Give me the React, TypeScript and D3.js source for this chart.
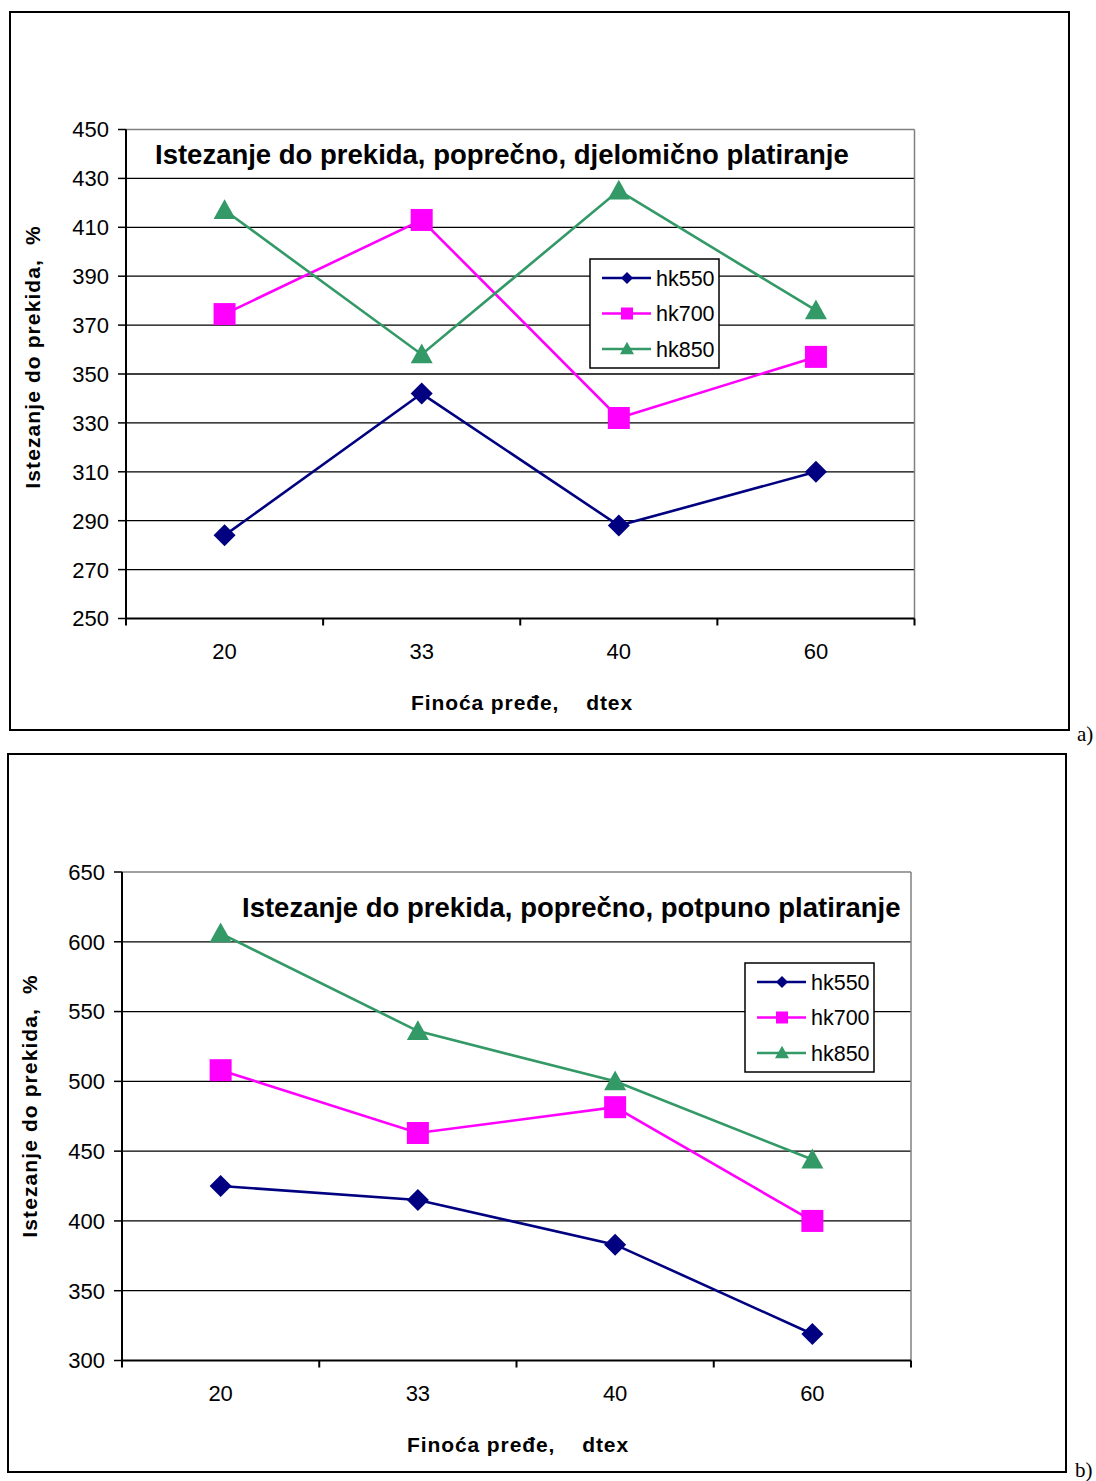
import React from "react";
import * as d3 from "d3";

const categories = ["20", "33", "40", "60"];
const seriesNames = ["hk550", "hk700", "hk850"];
const colors = ["#000080", "#FF00FF", "#339966"];

const aTitle = "Istezanje do prekida, poprečno, djelomično platiranje";
const aTicks = [250, 270, 290, 310, 330, 350, 370, 390, 410, 430, 450];
const aHk550 = [284, 342, 288, 310];
const aHk700 = [374.5, 413, 332, 357];
const aHk850 = [417, 358, 425, 376];

const bTitle = "Istezanje do prekida, poprečno, potpuno platiranje";
const bTicks = [300, 350, 400, 450, 500, 550, 600, 650];
const bHk550 = [425, 415, 383, 319];
const bHk700 = [508, 463, 481.5, 400];
const bHk850 = [606, 536, 500, 444];

const yLabel = "Istezanje do prekida,  %";
const xLabel = "Finoća pređe,    dtex";

function Marker({ kind, x, y, s, color }: { kind: number; x: number; y: number; s: number; color: string }) {
  if (kind === 0) {
    const h = s / 2;
    return <path d={`M${x},${y - h}L${x + h},${y}L${x},${y + h}L${x - h},${y}Z`} fill={color} />;
  }
  if (kind === 1) {
    return <rect x={x - s / 2} y={y - s / 2} width={s} height={s} fill={color} />;
  }
  const h = s * 0.9;
  return <path d={`M${x},${y - h / 2 - 1}L${x + s / 2},${y + h / 2 - 1}L${x - s / 2},${y + h / 2 - 1}Z`} fill={color} />;
}

type ChartProps = {
  box: [number, number, number, number];
  plot: [number, number, number, number];
  ticks: number[];
  series: number[][];
  title: string;
  titleX: number;
  titleY: number;
  legend: [number, number];
  yLabelPos: [number, number];
  xLabelPos: [number, number];
  tag: string;
  tagPos: [number, number];
};

function Chart(p: ChartProps) {
  const [l, t, r, b] = p.plot;
  const y = d3.scaleLinear().domain([p.ticks[0], p.ticks[p.ticks.length - 1]]).range([b, t]);
  const x = d3.scaleBand().domain(categories).range([l, r]);
  const cx = (c: string) => (x(c) as number) + x.bandwidth() / 2;
  const line = d3
    .line<number>()
    .x((_, i) => cx(categories[i]))
    .y((v) => y(v));
  const [lx, ly] = p.legend;
  const font = "Arial, 'Liberation Sans', sans-serif";
  return (
    <g fontFamily={font}>
      <rect x={p.box[0]} y={p.box[1]} width={p.box[2] - p.box[0]} height={p.box[3] - p.box[1]} fill="none" stroke="#000" strokeWidth={2} />
      {p.ticks.map((v) => (
        <g key={v}>
          {v !== p.ticks[0] && v !== p.ticks[p.ticks.length - 1] && (
            <line x1={l} x2={r} y1={y(v)} y2={y(v)} stroke="#000" strokeWidth={1.3} />
          )}
          <line x1={l - 8} x2={l} y1={y(v)} y2={y(v)} stroke="#000" strokeWidth={1.5} />
          <text x={l - 17} y={y(v)} dy="0.36em" textAnchor="end" fontSize={22}>
            {v}
          </text>
        </g>
      ))}
      <line x1={l} x2={r} y1={t} y2={t} stroke="#808080" strokeWidth={1.5} />
      <line x1={r} x2={r} y1={t} y2={b} stroke="#808080" strokeWidth={1.5} />
      <line x1={l} x2={l} y1={t} y2={b + 7} stroke="#000" strokeWidth={2} />
      <line x1={l} x2={r} y1={b} y2={b} stroke="#000" strokeWidth={2} />
      {categories.map((c, i) => (
        <line key={"t" + i} x1={(x(c) as number) + x.bandwidth()} x2={(x(c) as number) + x.bandwidth()} y1={b} y2={b + 7} stroke="#000" strokeWidth={2} />
      ))}
      {categories.map((c) => (
        <text key={"c" + c} x={cx(c)} y={b + 33} dy="0.36em" textAnchor="middle" fontSize={22}>
          {c}
        </text>
      ))}
      <text x={p.titleX} y={p.titleY} fontSize={27.5} fontWeight="bold" dy="0.35em">
        {p.title}
      </text>
      <text
        transform={`translate(${p.yLabelPos[0]},${p.yLabelPos[1]}) rotate(-90)`}
        textAnchor="middle"
        fontSize={21}
        fontWeight="bold"
        letterSpacing={1.1}
        dy="0.35em"
        style={{ whiteSpace: "pre" }}
      >
        {yLabel}
      </text>
      <text
        x={p.xLabelPos[0]}
        y={p.xLabelPos[1]}
        textAnchor="middle"
        fontSize={21}
        fontWeight="bold"
        letterSpacing={0.9}
        dy="0.35em"
        style={{ whiteSpace: "pre" }}
      >
        {xLabel}
      </text>
      {p.series.map((s, k) => (
        <g key={"s" + k}>
          <path d={line(s) || ""} fill="none" stroke={colors[k]} strokeWidth={2.6} />
          {s.map((v, i) => (
            <Marker key={i} kind={k} x={cx(categories[i])} y={y(v)} s={22} color={colors[k]} />
          ))}
        </g>
      ))}
      <rect x={lx} y={ly} width={129} height={109} fill="#fff" stroke="#000" strokeWidth={1.5} />
      {seriesNames.map((n, k) => {
        const yy = ly + 19 + k * 35.5;
        return (
          <g key={n}>
            <line x1={lx + 12} x2={lx + 61} y1={yy} y2={yy} stroke={colors[k]} strokeWidth={2.6} />
            <Marker kind={k} x={lx + 37} y={yy} s={k === 2 ? 14 : 12} color={colors[k]} />
            <text x={lx + 66} y={yy} dy="0.36em" fontSize={21.5}>
              {n}
            </text>
          </g>
        );
      })}
      <text x={p.tagPos[0]} y={p.tagPos[1]} fontFamily="'Liberation Serif', 'Times New Roman', serif" fontSize={21}>
        {p.tag}
      </text>
    </g>
  );
}

export default function App() {
  return (
    <svg width={1096} height={1481} style={{ position: "absolute", left: 0, top: 0, background: "#fff" }}>
      <rect width={1096} height={1481} fill="#fff" />
      <Chart
        box={[10, 12, 1069, 730]}
        plot={[126, 129.5, 914.5, 618.5]}
        ticks={aTicks}
        series={[aHk550, aHk700, aHk850]}
        title={aTitle}
        titleX={155}
        titleY={154}
        legend={[590, 259]}
        yLabelPos={[33, 357]}
        xLabelPos={[522, 703]}
        tag="a)"
        tagPos={[1077, 741]}
      />
      <Chart
        box={[8, 754, 1066, 1472]}
        plot={[122, 872, 911, 1360.5]}
        ticks={bTicks}
        series={[bHk550, bHk700, bHk850]}
        title={bTitle}
        titleX={242}
        titleY={907}
        legend={[745, 963]}
        yLabelPos={[30, 1106]}
        xLabelPos={[518, 1445]}
        tag="b)"
        tagPos={[1075, 1477]}
      />
    </svg>
  );
}
